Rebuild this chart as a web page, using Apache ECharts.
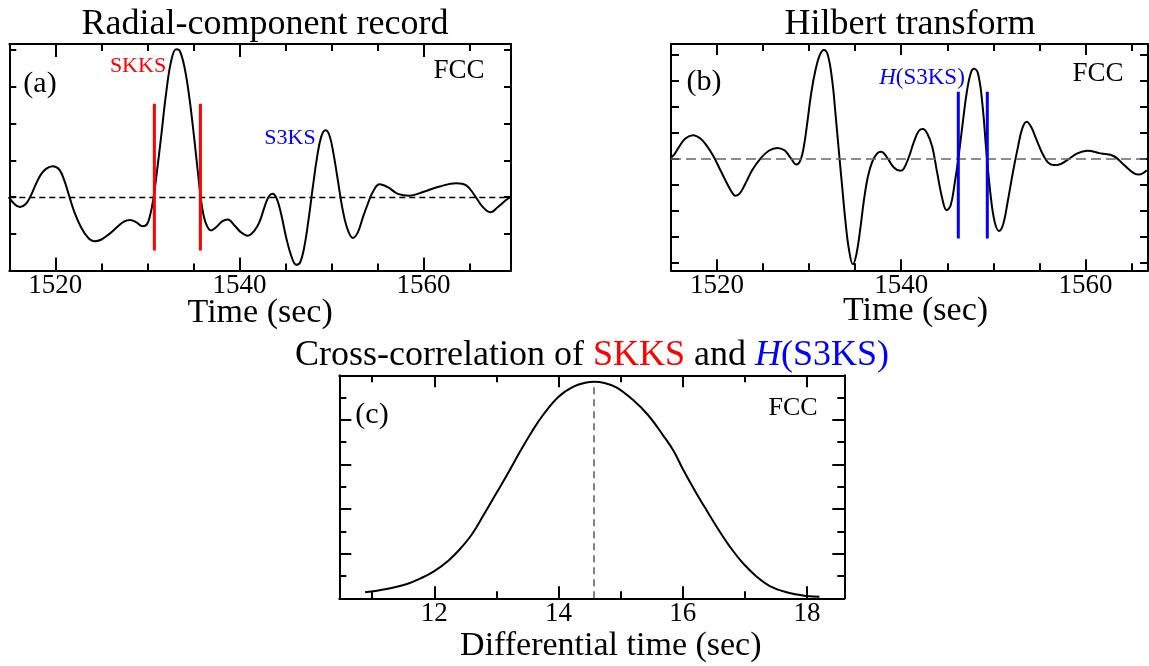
<!DOCTYPE html>
<html>
<head>
<meta charset="utf-8">
<script src="https://cdn.jsdelivr.net/npm/echarts@6/dist/echarts.min.js"></script>
<style>
html,body{margin:0;padding:0;background:#fff;}
#chart{width:1149px;height:666px;}
</style>
</head>
<body>
<div id="chart"></div>
<script>
// ---------- data ----------
// (a) Radial-component record
const timeA = [1514.93, 1515.54, 1516.16, 1516.81, 1517.36, 1517.9, 1518.44, 1518.99, 1519.71, 1520.43, 1520.98, 1521.52, 1522.07, 1522.79, 1523.51, 1524.24, 1524.96, 1525.87, 1526.78, 1527.5, 1528.12, 1528.77, 1529.49, 1529.93, 1530.29, 1530.65, 1531.01, 1531.49, 1532.03, 1532.57, 1533.12, 1533.48, 1534.02, 1534.57, 1535.11, 1535.58, 1535.94, 1536.38, 1536.92, 1537.46, 1538.12, 1538.73, 1539.46, 1540.18, 1540.91, 1541.63, 1542.17, 1542.72, 1543.19, 1543.62, 1544.06, 1544.53, 1545.07, 1545.62, 1546.16, 1546.59, 1547.07, 1547.54, 1547.97, 1548.41, 1548.88, 1549.35, 1549.78, 1550.22, 1550.69, 1551.16, 1551.67, 1552.32, 1552.86, 1553.41, 1553.95, 1554.49, 1555.22, 1556.12, 1557.21, 1558.48, 1559.93, 1561.74, 1563.55, 1564.64, 1565.54, 1566.45, 1567.25, 1568.08, 1569.0, 1569.43];
const ampA = [0, -0.18, -0.27, -0.18, 0.05, 0.36, 0.62, 0.77, 0.84, 0.75, 0.45, 0.02, -0.41, -0.82, -1.09, -1.2, -1.16, -1.0, -0.8, -0.66, -0.62, -0.68, -0.79, -0.75, -0.5, -0.05, 0.64, 1.64, 2.82, 3.69, 4.03, 4.0, 3.55, 2.69, 1.55, 0.46, -0.27, -0.73, -0.91, -0.82, -0.66, -0.61, -0.77, -0.96, -1.05, -0.91, -0.68, -0.27, 0.02, 0.09, -0.05, -0.46, -1.09, -1.59, -1.84, -1.78, -1.32, -0.55, 0.27, 1.05, 1.64, 1.82, 1.68, 1.18, 0.46, -0.27, -0.82, -1.11, -0.96, -0.55, -0.18, 0.14, 0.35, 0.27, 0.09, 0.04, 0.14, 0.29, 0.38, 0.32, 0.05, -0.27, -0.41, -0.27, -0.07, 0];
const skksPicks = [1530.76, 1535.76];
const skksPickSpan = [-1.45, 2.545];

// (b) Hilbert transform
const timeB = [1514.86, 1515.29, 1515.84, 1516.56, 1517.39, 1518.19, 1518.91, 1519.64, 1520.37, 1521.09, 1521.63, 1521.99, 1522.47, 1523.08, 1523.81, 1524.71, 1525.62, 1526.52, 1527.32, 1527.97, 1528.63, 1529.06, 1529.42, 1529.79, 1530.22, 1530.69, 1531.16, 1531.6, 1532.03, 1532.5, 1532.86, 1533.22, 1533.59, 1533.95, 1534.31, 1534.75, 1535.15, 1535.58, 1535.95, 1536.38, 1536.85, 1537.39, 1537.83, 1538.41, 1539.2, 1539.93, 1540.29, 1540.84, 1541.38, 1541.92, 1542.36, 1542.83, 1543.37, 1543.92, 1544.46, 1544.93, 1545.37, 1545.8, 1546.2, 1546.63, 1547.1, 1547.54, 1547.9, 1548.34, 1548.81, 1549.28, 1549.71, 1550.15, 1550.62, 1551.09, 1551.59, 1552.17, 1552.68, 1553.15, 1553.63, 1554.13, 1554.71, 1555.43, 1556.23, 1556.95, 1558.03, 1559.12, 1560.21, 1561.66, 1563.11, 1564.2, 1565.29, 1565.84, 1566.67];
const ampB = [0, 0.14, 0.44, 0.78, 0.91, 0.78, 0.49, 0.08, -0.44, -0.95, -1.29, -1.42, -1.33, -0.95, -0.44, 0.01, 0.31, 0.42, 0.33, 0.05, -0.22, -0.05, 0.46, 1.36, 2.51, 3.41, 3.99, 4.18, 3.99, 3.03, 1.74, 0.33, -1.08, -2.42, -3.45, -4.05, -3.64, -2.62, -1.59, -0.69, -0.12, 0.21, 0.27, 0.08, -0.33, -0.46, -0.37, 0.08, 0.65, 1.08, 1.15, 0.97, 0.46, -0.56, -1.53, -1.97, -1.78, -0.95, 0, 1.23, 2.51, 3.28, 3.46, 3.28, 2.13, 0.14, -1.4, -2.42, -2.77, -2.49, -1.59, -0.44, 0.46, 1.17, 1.42, 1.21, 0.72, 0.14, -0.21, -0.24, -0.05, 0.21, 0.31, 0.21, 0.1, -0.24, -0.56, -0.6, -0.44];
const hPicks = [1546.2, 1549.35];
const hPickSpan = [-3.06, 2.58];

// (c) Cross-correlation
const lagC = [10.885, 11.23, 11.56, 11.77, 12.0, 12.23, 12.41, 12.6, 12.79, 13.0, 13.19, 13.38, 13.57, 13.75, 14.0, 14.24, 14.45, 14.57, 14.72, 14.93, 15.2, 15.44, 15.68, 15.85, 16.0, 16.19, 16.38, 16.57, 16.76, 16.97, 17.19, 17.4, 17.67, 18.0, 18.2];
const ccC = [0.27, 0.42, 0.64, 0.88, 1.22, 1.7, 2.2, 2.85, 3.72, 4.72, 5.63, 6.58, 7.47, 8.22, 9.04, 9.49, 9.68, 9.71, 9.67, 9.46, 8.89, 8.22, 7.32, 6.62, 5.8, 4.85, 3.96, 3.1, 2.31, 1.57, 0.97, 0.55, 0.27, 0.1, 0.07];
const ccPeakLag = 14.57;
const ccPeakValue = 9.71;

// tick labels / tick positions
const timeLabels = [1520, 1540, 1560];
const timeMinorTicks = [1525, 1530, 1535, 1545, 1550, 1555, 1565];
const ampTicksA = [-1, 0, 1, 2, 3, 4];
const ampTicksB = [-4, -3, -2, -1, 0, 1, 2, 3, 4];
const lagLabels = [12, 14, 16, 18];
const lagMinorTicks = [11, 13, 15, 17];
const ccMajorTicks = [2, 4, 6, 8];
const ccMinorTicks = [1, 3, 5, 7, 9];

// ---------- helpers ----------
const FONT = "'Liberation Serif','Times New Roman',serif";
const zip = (a, b) => a.map((v, i) => [v, b[i]]);

function edgeAxes(gridIndex, position, min, max, major, majorLen, minor, minorLen, label, name) {
  const base = {
    gridIndex: gridIndex, type: 'value', min: min, max: max, position: position,
    splitLine: {show: false}, splitArea: {show: false}, silent: true,
    axisPointer: {show: false}, nameMoveOverlap: false
  };
  const tickStyle = {color: '#000', width: 2};
  const main = Object.assign({}, base, {
    axisLine: {show: true, onZero: false, lineStyle: {color: '#000', width: 2}},
    axisTick: major.length ? {show: true, inside: true, length: majorLen, customValues: major, lineStyle: tickStyle} : {show: false},
    axisLabel: label ? {show: true, customValues: label.values, margin: label.margin, fontSize: label.size,
      fontFamily: FONT, color: '#000', formatter: v => String(v)} : {show: false}
  });
  if (name) {
    main.name = name.text;
    main.nameLocation = 'middle';
    main.nameGap = name.gap;
    main.nameTextStyle = {fontSize: name.size, fontFamily: FONT, color: '#000', padding: [0, 0, 0, name.shift || 0]};
  }
  const sub = Object.assign({}, base, {
    axisLine: {show: false, onZero: false},
    axisTick: minor.length ? {show: true, inside: true, length: minorLen, customValues: minor, lineStyle: tickStyle} : {show: false},
    axisLabel: {show: false}
  });
  return [main, sub];
}

const grids = [
  {left: 9.3, top: 44, width: 501.7, height: 226.6},
  {left: 671, top: 44, width: 477, height: 226.3},
  {left: 339.3, top: 375.3, width: 505, height: 223}
].map(g => Object.assign({outerBoundsMode: 'none', containLabel: false}, g));

const xAxes = [], yAxes = [];
// panel a
xAxes.push(...edgeAxes(0, 'bottom', 1515, 1569.5, timeLabels, 13, timeMinorTicks, 7,
  {values: timeLabels, margin: 2, size: 27}, {text: 'Time (sec)', gap: 25, size: 34}));
xAxes.push(...edgeAxes(0, 'top', 1515, 1569.5, timeLabels, 13, timeMinorTicks, 7));
yAxes.push(...edgeAxes(0, 'left', -2, 4.17, ampTicksA, 7, [], 0));
yAxes.push(...edgeAxes(0, 'right', -2, 4.17, ampTicksA, 7, [], 0));
// panel b
xAxes.push(...edgeAxes(1, 'bottom', 1515, 1566.8, timeLabels, 11, timeMinorTicks, 7,
  {values: timeLabels, margin: 2, size: 27}, {text: 'Time (sec)', gap: 24, size: 34, shift: 12}));
xAxes.push(...edgeAxes(1, 'top', 1515, 1566.8, timeLabels, 11, timeMinorTicks, 7));
yAxes.push(...edgeAxes(1, 'left', -4.28, 4.41, ampTicksB, 8, [], 0));
yAxes.push(...edgeAxes(1, 'right', -4.28, 4.41, ampTicksB, 8, [], 0));
// panel c
xAxes.push(...edgeAxes(2, 'bottom', 10.47, 18.6, lagLabels, 12, lagMinorTicks, 7,
  {values: lagLabels, margin: 2, size: 27}, {text: 'Differential time (sec)', gap: 31, size: 34, shift: 38}));
xAxes.push(...edgeAxes(2, 'top', 10.47, 18.6, lagLabels, 12, lagMinorTicks, 7));
yAxes.push(...edgeAxes(2, 'left', 0, 10, ccMajorTicks, 12, ccMinorTicks, 7));
yAxes.push(...edgeAxes(2, 'right', 0, 10, ccMajorTicks, 12, ccMinorTicks, 7));

function trace(idx, data, zeroLine) {
  const s = {
    type: 'line', xAxisIndex: idx, yAxisIndex: idx, data: data, smooth: 0.4,
    symbol: 'none', showSymbol: false, z: 3,
    lineStyle: {color: '#000', width: 2}
  };
  if (zeroLine) {
    s.markLine = {silent: true, symbol: 'none', label: {show: false}, animation: false,
      data: [{yAxis: 0}], lineStyle: zeroLine};
  }
  return s;
}
function vline(idx, x, lo, hi, style, z) {
  return {type: 'line', xAxisIndex: idx, yAxisIndex: idx, data: [[x, lo], [x, hi]],
    symbol: 'none', showSymbol: false, z: z, lineStyle: style};
}

const series = [
  trace(0, zip(timeA, ampA), {color: '#000', width: 1.3, type: [6, 4]}),
  ...skksPicks.map(t => vline(0, t, skksPickSpan[0], skksPickSpan[1], {color: '#ff0000', width: 3}, 5)),
  trace(4, zip(timeB, ampB), {color: '#666', width: 1.6, type: [10, 5]}),
  ...hPicks.map(t => vline(4, t, hPickSpan[0], hPickSpan[1], {color: '#0000ff', width: 3}, 5)),
  trace(8, zip(lagC, ccC), null),
  vline(8, ccPeakLag, 0, ccPeakValue, {color: '#555', width: 1.5, type: [7, 5]}, 2)
];

function txt(x, y, text, size, color) {
  return {type: 'text', x: x, y: y, silent: true, z: 10,
    style: {text: text, fontSize: size, fontFamily: FONT, fill: color || '#000', align: 'center', verticalAlign: 'middle'}};
}

const graphic = [
  txt(265, 25, 'Radial-component record', 36),
  txt(910, 25, 'Hilbert transform', 36),
  {type: 'text', x: 592, y: 356, silent: true, z: 10,
    style: {text: 'Cross-correlation of {r|SKKS} and {bi|H}{b|(S3KS)}', fontSize: 36, fontFamily: FONT, fill: '#000',
      align: 'center', verticalAlign: 'middle',
      rich: {
        r: {fill: '#ff0000', fontSize: 36, fontFamily: FONT},
        bi: {fill: '#0000ff', fontSize: 36, fontFamily: FONT, fontStyle: 'italic'},
        b: {fill: '#0000ff', fontSize: 36, fontFamily: FONT}
      }}},
  txt(40, 84, '(a)', 30),
  txt(459, 71, 'FCC', 27),
  txt(138, 66, 'SKKS', 22, '#ff0000'),
  txt(290, 138, 'S3KS', 22, '#0000ff'),
  txt(704, 82, '(b)', 30),
  txt(1098, 74, 'FCC', 27),
  {type: 'text', x: 922, y: 78, silent: true, z: 10,
    style: {text: '{i|H}{n|(S3KS)}', fontSize: 23, fontFamily: FONT, fill: '#0000ff', align: 'center', verticalAlign: 'middle',
      rich: {i: {fill: '#0000ff', fontSize: 23, fontFamily: FONT, fontStyle: 'italic'}, n: {fill: '#0000ff', fontSize: 23, fontFamily: FONT}}}},
  txt(372, 415, '(c)', 30),
  txt(793, 408, 'FCC', 26)
];

const chart = echarts.init(document.getElementById('chart'), null, {renderer: 'canvas'});
chart.setOption({
  animation: false,
  backgroundColor: '#fff',
  grid: grids,
  xAxis: xAxes,
  yAxis: yAxes,
  series: series,
  graphic: graphic
});
</script>
</body>
</html>
